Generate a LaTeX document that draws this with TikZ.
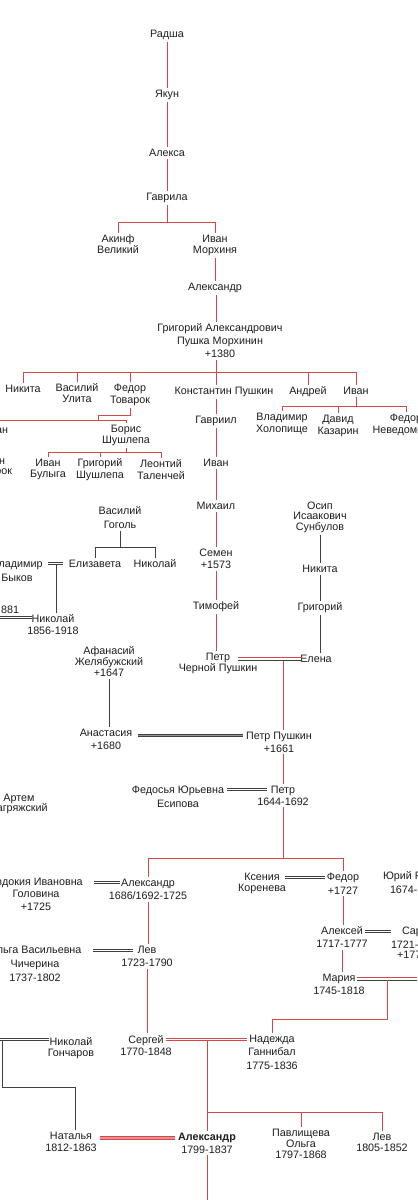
\documentclass[tikz,border=0pt]{standalone}
\usepackage{fontspec}
\setmainfont{Liberation Sans}
\definecolor{lred}{RGB}{212,72,72}
\definecolor{lgray}{RGB}{64,64,64}
\definecolor{txt}{RGB}{30,30,30}
\begin{document}
\begin{tikzpicture}[x=1bp,y=-1bp,
  p/.style={font=\fontsize{10.8}{12}\selectfont, text=txt, align=center, inner sep=2bp, outer sep=0pt, anchor=north},
  lead/.style={font=\fontsize{10.8}{#1}\selectfont},
  rl/.style={draw=lred, line width=1bp},
  gl/.style={draw=lgray, line width=1bp},
  dbl/.style={draw=lgray, line width=0.9bp, double=white, double distance=1.7bp},
  dblr/.style={draw=lred, line width=0.9bp, double=white, double distance=1.7bp},
  band/.style={draw=lgray, line width=1.2bp, double=lgray!55, double distance=1.3bp},
  bandr/.style={draw=lred, line width=1.2bp, double=lred!60, double distance=1.3bp}]
\useasboundingbox (0,0) rectangle (417,1200);
\fill[white] (0,0) rectangle (417,1200);
\clip (0,0) rectangle (417,1200);

% ---------- nodes ----------
\node[p] (radsha) at (167,28) {Радша};
\node[p] (yakun) at (167,88) {Якун};
\node[p] (aleksa) at (167,147) {Алекса};
\node[p] (gavrila) at (167,191) {Гаврила};
\node[p,lead=11] (akinf) at (118,233) {Акинф\\Великий};
\node[p,lead=11] (ivanm) at (215,233) {Иван\\Морхиня};
\node[p] (aleks1) at (215,281) {Александр};
\node[p,lead=13] (grig) at (220,322) {Григорий Александрович\\Пушка Морхинин\\+1380};
\node[p] (nikita) at (23,383) {Никита};
\node[p,lead=10.5] (vasul) at (77,382) {Василий\\Улита};
\node[p,lead=12] (fedtov) at (130,382) {Федор\\Товарок};
\node[p] (konst) at (224,385) {Константин Пушкин};
\node[p] (andrey) at (308,385) {Андрей};
\node[p] (ivan2) at (356,385) {Иван};
\node[p,anchor=north east] (ivanl) at (10,424) {Иван};
\node[p,lead=11.5] (boris) at (126,423) {Борис\\Шушлепа};
\node[p] (gavriil) at (216,414) {Гавриил};
\node[p,lead=12] (vladh) at (282,411) {Владимир\\Холопище};
\node[p,lead=12] (david) at (338,413) {Давид\\Казарин};
\node[p,lead=12] (fned) at (406,412) {Федор\\Неведомский};
\node[p,anchor=north east] (frn1) at (7,457) {н};
\node[p,anchor=north east] (frn2) at (14,467) {рок};
\node[p,lead=11] (ivanb) at (48,457) {Иван\\Булыга};
\node[p,lead=12] (grigsh) at (100,457) {Григорий\\Шушлепа};
\node[p,lead=12] (leont) at (161,458) {Леонтий\\Таленчей};
\node[p] (ivan3) at (216,457) {Иван};
\node[p] (mikh) at (216,500) {Михаил};
\node[p,lead=12] (semen) at (216,547) {Семен\\+1573};
\node[p] (timof) at (216,600) {Тимофей};
\node[p,lead=11.5] (petrc) at (218,651) {Петр\\Черной Пушкин};
\node[p,lead=10.5] (osip) at (320,500) {Осип\\Исаакович\\Сунбулов};
\node[p] (nikita2) at (320,563) {Никита};
\node[p] (grigory2) at (320,601) {Григорий};
\node[p] (elena) at (316,653) {Елена};
\node[p,lead=14] (vasgog) at (120,505) {Василий\\Гоголь};
\node[p] (eliz) at (95,558) {Елизавета};
\node[p] (nikg) at (155,558) {Николай};
\node[p,lead=14] (vlad) at (17,558) {Владимир\\Быков};
\node[p,anchor=north east] (f881) at (21,604) {881};
\node[p,lead=12] (nik56) at (53,613) {Николай\\1856-1918};
\node[p,lead=11] (afan) at (109,645) {Афанасий\\Желябужский\\+1647};
\node[p,lead=13] (anast) at (106,727) {Анастасия\\+1680};
\node[p,lead=13] (petrp) at (279,730) {Петр Пушкин\\+1661};
\node[p,lead=12] (petr44) at (283,784) {Петр\\1644-1692};
\node[p,lead=14] (fedos) at (178,784) {Федосья Юрьевна\\Есипова};
\node[p,lead=10.5] (artem) at (19,792) {Артем\\Загряжский};
\node[p,lead=12.5] (evdok) at (36,876) {Евдокия Ивановна\\Головина\\+1725};
\node[p,lead=13.5] (aleks2) at (148,877) {Александр\\1686/1692-1725};
\node[p,lead=11.5] (kseniya) at (262,871) {Ксения\\Коренева};
\node[p,lead=14] (fedor27) at (343,871) {Федор\\+1727};
\node[p,anchor=north west] (yuri1) at (381,870) {Юрий Р};
\node[p,anchor=north west] (yuri2) at (388,884) {1674-};
\node[p,lead=14] (olga) at (35,944) {Ольга Васильевна\\Чичерина\\1737-1802};
\node[p,lead=13.5] (lev) at (147,944) {Лев\\1723-1790};
\node[p,lead=13] (aleksey) at (342,925) {Алексей\\1717-1777};
\node[p,anchor=north west] (sar1) at (400,925) {Сар};
\node[p,anchor=north west] (sar2) at (389,939) {1721-};
\node[p,anchor=north west] (sar3) at (395,949) {+177};
\node[p,lead=13] (maria) at (339,972) {Мария\\1745-1818};
\node[p,lead=13] (sergey) at (146,1033) {Сергей\\1770-1848};
\node[p,lead=13.5] (nadezhda) at (272,1033) {Надежда\\Ганнибал\\1775-1836};
\node[p,lead=12] (nikgon) at (71,1035) {Николай\\Гончаров};
\node[p,lead=12] (natalya) at (71,1130) {Наталья\\1812-1863};
\node[p,lead=13] (alexander) at (207,1131) {\textbf{Александр}\\1799-1837};
\node[p,lead=11] (olgap) at (301,1127) {Павлищева\\Ольга\\1797-1868};
\node[p,lead=11] (lev2) at (382,1131) {Лев\\1805-1852};

% ---------- red lineage ----------
\draw[rl] (radsha.south) -- (yakun.north);
\draw[rl] (yakun.south) -- (aleksa.north);
\draw[rl] (aleksa.south) -- (gavrila.north);
\coordinate (g1) at (167,222);
\draw[rl] (gavrila.south) -- (g1);
\draw[rl] (akinf.north) -- (akinf.north |- g1) -- (ivanm.north |- g1) -- (ivanm.north);
\draw[rl] (ivanm.south) -- (aleks1.north);
\coordinate (g2) at (216,372);
\draw[rl] (aleks1.south -| g2) -- (grig.north -| g2);
\draw[rl] (grig.south -| g2) -- (g2);
\draw[rl] (nikita.north) -- (nikita.north |- g2) -- (ivan2.north |- g2) -- (ivan2.north);
\draw[rl] (vasul.north |- g2) -- (vasul.north);
\draw[rl] (fedtov.north |- g2) -- (fedtov.north);
\draw[rl] (andrey.north |- g2) -- (andrey.north);
\draw[rl] (g2) -- (g2 |- konst.north);
\draw[rl] (konst.south -| gavriil) -- (gavriil.north);
\draw[rl] (gavriil.south) -- (ivan3.north);
\draw[rl] (ivan3.south) -- (mikh.north);
\draw[rl] (mikh.south) -- (semen.north);
\draw[rl] (semen.south) -- (timof.north);
\draw[rl] (timof.south) -- (timof.south |- petrc.north);
% Fedor Tovarok
\coordinate (ft1) at (98,415);
\coordinate (ft2) at (0,420);
\draw[rl] (fedtov.south) -- (fedtov.south |- ft1) -- (ft1) -- (ft1 |- ft2);
\draw[rl] (ft2) -- (ft2 -| boris.north) -- (boris.north);
\coordinate (bb) at (126,452);
\draw[rl] (boris.south) -- (bb);
\draw[rl] (ivanb.north) -- (ivanb.north |- bb) -- (leont.north |- bb) -- (leont.north);
\draw[rl] (grigsh.north |- bb) -- (grigsh.north);
% Ivan (right)
\coordinate (ib) at (356,406);
\draw[rl] (ivan2.south) -- (ib);
\draw[rl] (vladh.north) -- (vladh.north |- ib) -- (fned.north |- ib) -- (fned.north);
\draw[rl] (david.north |- ib) -- (david.north);
% Petr + Elena
\coordinate (pe1) at (238,657.5);
\coordinate (pe2) at (302,657.5);
\coordinate (pe3) at (238,660.5);
\coordinate (pe4) at (302,660.5);
\draw[rl] (pe1) -- (pe2);
\draw[gl,line width=0.9bp] (pe3) -- (pe4);
\coordinate (pe) at (283,660.5);
\draw[rl] (pe) -- (pe |- petrp.north);
\draw[rl] (petrp.south -| pe) -- (pe |- petr44.north);
\coordinate (pb) at (283,858);
\draw[rl] (petr44.south -| pb) -- (pb);
\draw[rl] (aleks2.north) -- (aleks2.north |- pb) -- (fedor27.north |- pb) -- (fedor27.north);
\draw[rl] (aleks2.south) -- (aleks2.south |- lev.north);
\draw[rl] (lev.south) -- (lev.south |- sergey.north);
\draw[rl] (fedor27.south) -- (fedor27.south |- aleksey.north);
\draw[rl] (aleksey.south) -- (aleksey.south |- maria.north);
% Maria
\coordinate (ma1) at (357,977);
\coordinate (ma2) at (417,977);
\coordinate (ma3) at (357,980);
\coordinate (ma4) at (417,980);
\draw[rl] (ma1) -- (ma2);
\draw[gl,line width=0.9bp] (ma3) -- (ma4);
\coordinate (mc) at (387,980);
\draw[rl] (mc) -- (387,1019) -| (nadezhda.north);
% Sergey + Nadezhda
\coordinate (sn1) at (166,1039.5);
\coordinate (sn2) at (247,1039.5);
\draw[dblr] (sn1) -- (sn2);
\coordinate (sc) at (207,1041);
\coordinate (sb) at (207,1112);
\draw[rl] (sc) -- (sb) -- (sb -| lev2.north) -- (lev2.north);
\draw[rl] (sb -| olgap.north) -- (olgap.north);
\draw[rl] (sb) -- (alexander.north);
\draw[rl] (alexander.south) -- (207,1200);
% Natalya + Alexander
\coordinate (na1) at (100,1138);
\coordinate (na2) at (175,1138);
\draw[bandr] (na1) -- (na2);

% ---------- grey lines ----------
\draw[gl] (osip.south) -- (nikita2.north);
\draw[gl] (nikita2.south) -- (grigory2.north);
\draw[gl] (grigory2.south) -- (grigory2.south |- elena.north);
\draw[gl] (afan.south) -- (afan.south |- anast.north);
\coordinate (gg) at (120,547);
\draw[gl] (vasgog.south) -- (gg);
\draw[gl] (eliz.north) -- (eliz.north |- gg) -- (nikg.north |- gg) -- (nikg.north);
\coordinate (vm1) at (48,563.5);
\coordinate (vm2) at (63,563.5);
\draw[dbl] (vm1) -- (vm2);
\coordinate (vm) at (56,565);
\draw[gl] (vm) -- (vm |- nik56.north);
\draw[dbl] (0,617.5) -- (32,617.5);
\coordinate (ap1) at (138,735.5);
\coordinate (ap2) at (243,735.5);
\draw[band] (ap1) -- (ap2);
\draw[dbl] (227,789.5) -- (267,789.5);
\draw[dbl] (94,882.5) -- (120,882.5);
\draw[dbl] (285,877.5) -- (325,877.5);
\draw[dbl] (93,950.5) -- (133,950.5);
\draw[dbl] (365,931.5) -- (391,931.5);
% Goncharov
\draw[dbl] (0,1039.5) -- (49,1039.5);
\coordinate (gn) at (2,1041);
\draw[gl] (gn) -- (2,1087) -| ([xshift=4bp]natalya.north);
\end{tikzpicture}
\end{document}
